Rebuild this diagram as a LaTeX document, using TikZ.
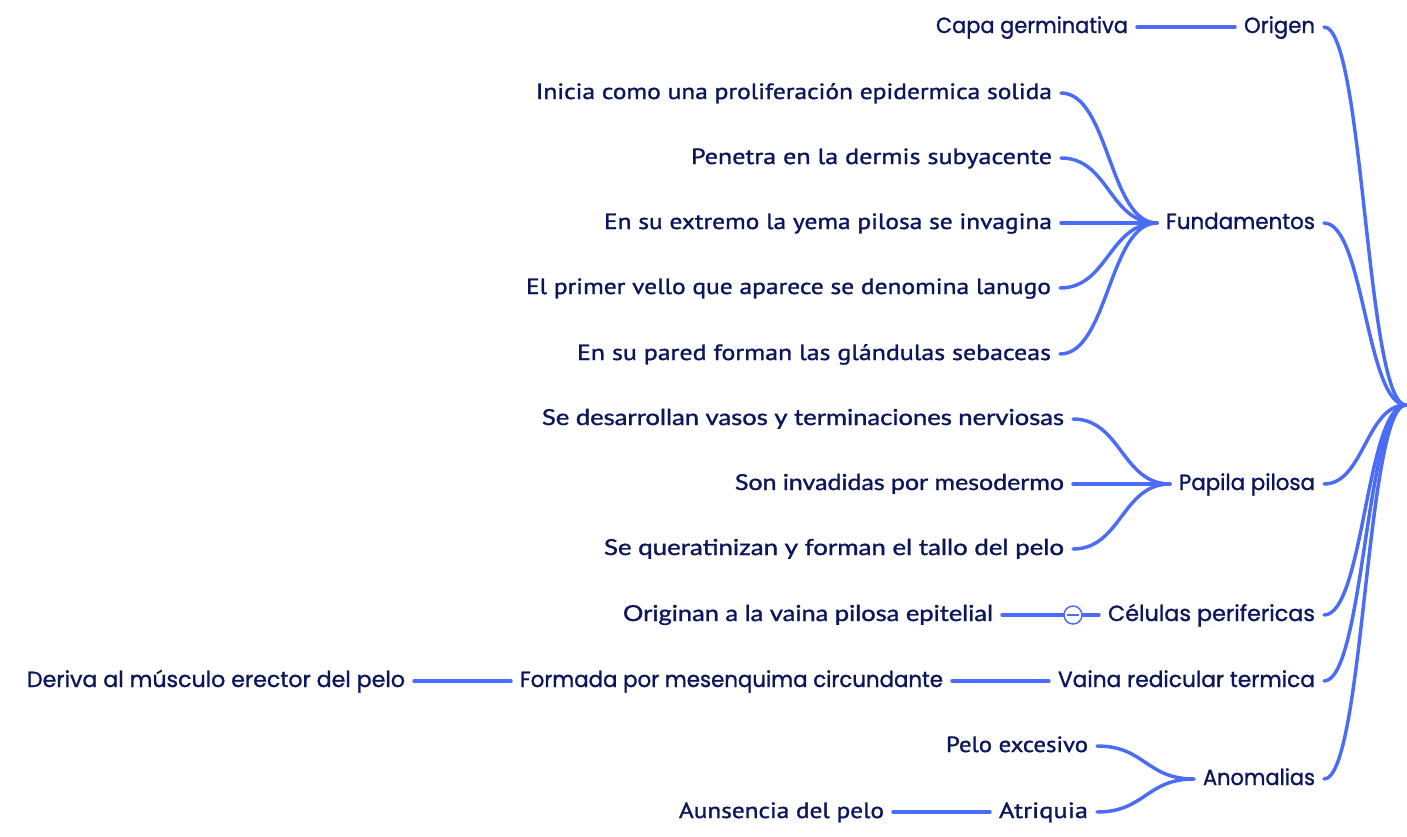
\documentclass[tikz,border=0pt]{standalone}
\usepackage{fontspec}
\setmainfont{Poppins}[FakeBold=1.2]
\newfontfamily\handf{PT Sans}[FakeBold=1.2]
\newfontfamily\comicf{Lato}[FakeBold=1.2]
\usepackage{graphicx}
\definecolor{ink}{RGB}{12,22,92}
\definecolor{edge}{RGB}{74,108,247}
\newlength\fitlen
\newcommand\fitto[2]{\settowidth\fitlen{#2}\pgfmathsetmacro\fitr{#1*0.75/\fitlen}\scalebox{\fitr}[1]{#2}}
\tikzset{
  lbl/.style={anchor=east, inner sep=0pt, outer xsep=6.75pt, text=ink, text height=9pt, text depth=0pt, font=\fontsize{16.5}{18}\selectfont},
  handnode/.style={lbl, font=\handf\fontsize{16.5}{18}\selectfont},
  comicnode/.style={lbl, font=\comicf\fontsize{16.5}{18}\selectfont},
  conn/.style={draw=edge, line width=2.6pt, line cap=round},
  marker/.style={circle, draw=edge, line width=1.1pt, fill=white, minimum size=13.5pt, inner sep=0pt},
}
\begin{document}
\begin{tikzpicture}[x=0.75pt, y=-0.75pt]
\useasboundingbox (0,0) rectangle (1407,836);
\coordinate (root) at (1406,405);
% level 1
\node[lbl] (origen) at (1324,27) {\fitto{71}{Origen}};
\node[lbl] (fund) at (1324,223) {\fitto{149}{Fundamentos}};
\node[lbl] (pap) at (1324,484) {\fitto{136}{Papila pilosa}};
\node[lbl] (cel) at (1324,615) {\fitto{207}{Células perifericas}};
\node[lbl] (vaina) at (1324,681) {\fitto{257}{Vaina redicular termica}};
\node[lbl] (anom) at (1324,779) {\fitto{112}{Anomalias}};
% level 2
\node[lbl] (capa) at (1137,27) {\fitto{192}{Capa germinativa}};
\node[handnode] (f1) at (1061,93) {\fitto{516}{Inicia como una proliferación epidermica solida}};
\node[handnode] (f2) at (1061,158) {\fitto{361}{Penetra en la dermis subyacente}};
\node[handnode] (f3) at (1061,223) {\fitto{448}{En su extremo la yema pilosa se invagina}};
\node[handnode] (f4) at (1060,288) {\fitto{525}{El primer vello que aparece se denomina lanugo}};
\node[handnode] (f5) at (1060,354) {\fitto{474}{En su pared forman las glándulas sebaceas}};
\node[comicnode] (p1) at (1073,419) {\fitto{522}{Se desarrollan vasos y terminaciones nerviosas}};
\node[comicnode] (p2) at (1073,484) {\fitto{329}{Son invadidas por mesodermo}};
\node[comicnode] (p3) at (1073,549) {\fitto{460}{Se queratinizan y forman el tallo del pelo}};
\node[comicnode] (orig) at (1002,615) {\fitto{370}{Originan a la vaina pilosa epitelial}};
\node[lbl] (form) at (952,681) {\fitto{423}{Formada por mesenquima circundante}};
\node[lbl] (der) at (414,681) {\fitto{378}{Deriva al músculo erector del pelo}};
\node[handnode] (pe) at (1097,746) {\fitto{142}{Pelo excesivo}};
\node[handnode] (atr) at (1097,812) {\fitto{89}{Atriquia}};
\node[handnode] (aus) at (893,812) {\fitto{205}{Aunsencia del pelo}};
% root connectors
\foreach \n in {origen,fund,pap,cel,vaina,anom}
  \draw[conn] (\n.east) .. controls +(40,0) and +(-40,0) .. (root);
% Fundamentos
\foreach \n in {f1,f2,f3,f4,f5}
  \draw[conn] (\n.east) .. controls +(48,0) and +(-48,0) .. (fund.west);
% Papila
\foreach \n in {p1,p2,p3}
  \draw[conn] (\n.east) .. controls +(48,0) and +(-48,0) .. (pap.west);
% Anomalias
\foreach \n in {pe,atr}
  \draw[conn] (\n.east) .. controls +(48,0) and +(-48,0) .. (anom.west);
% straight
\draw[conn] (capa.east) -- (origen.west);
\draw[conn] (form.east) -- (vaina.west);
\draw[conn] (der.east) -- (form.west);
\draw[conn] (aus.east) -- (atr.west);
% celulas with collapse marker
\node[marker] (mk) at (1073,615) {};
\draw[conn] (orig.east) -- (mk.west);
\draw[conn] (mk.east) -- (cel.west);
\draw[draw=edge, line width=1.1pt] ([xshift=2.5pt]mk.west) -- ([xshift=-2.5pt]mk.east);
\end{tikzpicture}
\end{document}
